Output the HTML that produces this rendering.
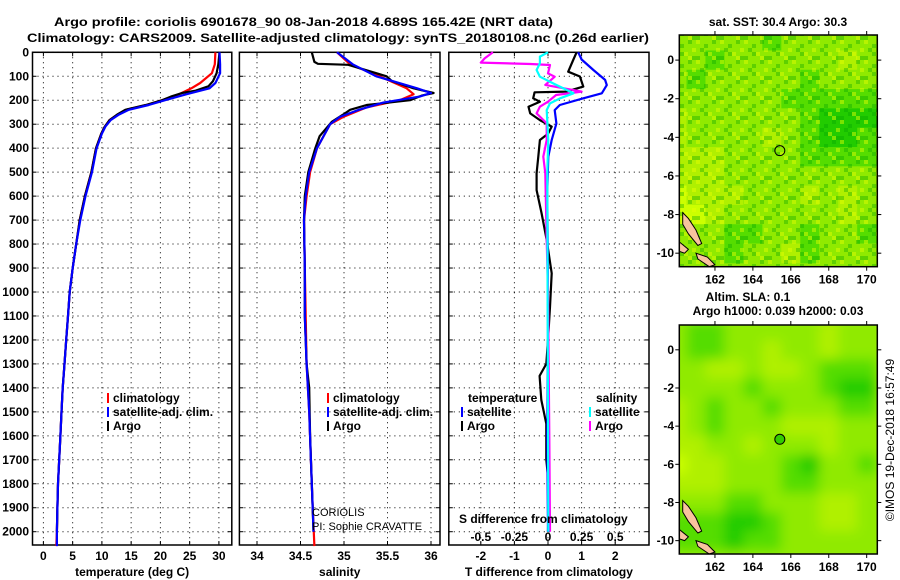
<!DOCTYPE html>
<html><head><meta charset="utf-8">
<style>
html,body{margin:0;padding:0;background:#fff;}
svg{display:block;font-family:"Liberation Sans",sans-serif;}
.b{font-weight:bold;font-size:12px;}
</style></head>
<body>
<svg id="fig" width="900" height="580" viewBox="0 0 900 580">
<text x="54" y="26" class="b" font-size="13" textLength="499" lengthAdjust="spacingAndGlyphs">Argo profile: coriolis 6901678_90 08-Jan-2018 4.689S 165.42E (NRT data)</text>
<text x="27" y="42" class="b" font-size="13" textLength="622" lengthAdjust="spacingAndGlyphs">Climatology: CARS2009. Satellite-adjusted climatology: synTS_20180108.nc (0.26d earlier)</text>
<g id="plots"></g>
<text x="778" y="26" class="b" text-anchor="middle">sat. SST: 30.4 Argo: 30.3</text>
<text x="748" y="301" class="b" text-anchor="middle">Altim. SLA: 0.1</text>
<text x="778" y="315" class="b" text-anchor="middle">Argo h1000: 0.039 h2000: 0.03</text>
<text transform="translate(894,440) rotate(-90)" font-size="12" text-anchor="middle">©IMOS 19-Dec-2018 16:57:49</text>
<text x="312" y="516" font-size="11">CORIOLIS</text>
<text x="312" y="530" font-size="11">PI: Sophie CRAVATTE</text>
</svg>
<script>
// ---- Profile data (depth in m) ----
const depthArgoT = [0,50,87,120,142,160,170,185,200,220,240,260,283,310,339,400,500,600,700,800,900,1000,1100,1200,1300,1400,1500,1600,1700,1800,1900,2000];
const tempArgo   = [30.1,29.9,29.6,29.0,28.2,26.0,23.7,21.8,20.3,17.5,14.0,12.6,11.3,10.5,9.9,9.0,8.2,7.1,6.2,5.6,5.0,4.5,4.2,3.9,3.6,3.3,3.1,2.9,2.7,2.5,2.4,2.3];
const depthClimT = [0,50,87,128,150,175,200,220,240,260,283,310,339,400,500,600,700,800,900,1000,1100,1200,1300,1400,1500,1600,1700,1800,1900,2000,2060];
const tempClim   = [29.4,29.3,28.8,26.8,25.3,23.2,20.3,17.6,14.2,12.7,11.3,10.5,9.9,9.0,8.2,7.1,6.2,5.6,5.0,4.5,4.2,3.9,3.6,3.3,3.1,2.9,2.7,2.5,2.4,2.3,2.2];
const tempSat    = [30.1,30.2,30.2,29.4,28.4,24.5,20.8,18.0,14.6,12.9,11.5,10.6,10.0,9.1,8.3,7.2,6.3,5.6,5.0,4.5,4.2,3.9,3.6,3.3,3.1,2.9,2.7,2.5,2.4,2.3,2.3];

const depthArgoS = [0,40,48,52,100,120,150,170,180,200,220,240,260,290,350,400,500,600,700,900,1100,1300,1400,1600,1800,2000];
const salArgo    = [34.63,34.66,34.7,35.05,35.49,35.55,35.8,36.03,35.9,35.76,35.26,35.07,34.99,34.86,34.72,34.67,34.59,34.55,34.54,34.55,34.55,34.57,34.6,34.61,34.63,34.65];
const depthClimS = [0,50,100,150,175,200,230,270,300,400,500,600,700,900,1100,1300,1500,1700,1900,2060];
const salClim    = [34.92,35.07,35.41,35.72,35.8,35.64,35.26,34.99,34.84,34.69,34.61,34.57,34.54,34.55,34.56,34.57,34.6,34.62,34.64,34.66];
const depthSatS  = [0,50,100,150,170,185,210,240,270,300,400,500,600,700,900,1100,1300,1500,1700,1900,2000];
const salSat     = [34.92,35.1,35.37,35.84,36.0,35.87,35.45,35.17,34.95,34.84,34.69,34.6,34.56,34.54,34.55,34.55,34.57,34.6,34.62,34.64,34.65];

const depthDiffTS = [0,30,74,115,137,171,192,220,241,297,366,435,575,800,1200,1600,2000];
const tDiffSat    = [0.9,1.0,1.35,1.7,1.75,1.6,1.05,0.35,0.2,0.25,0.11,0.01,-0.02,-0.01,0,-0.02,0];
const depthDiffTA = [0,32,81,101,143,164,167,192,206,227,255,283,310,340,366,435,505,575,672,783,922,1062,1200,1300,1350,1450,1550,1700,1800,2000];
const tDiffArgo   = [0.85,0.75,0.6,0.95,1.05,0.55,-0.4,-0.44,-0.24,-0.58,-0.53,-0.24,0.11,0,-0.24,-0.29,-0.34,-0.34,-0.19,-0.04,0.11,0.06,0,-0.05,-0.25,-0.2,-0.05,-0.05,0.02,0];
const depthDiffSA = [0,25,43,49,53,88,102,136,164,178,206,227,255,296,366,435,505,783,1000,1600,2000];
const sDiffArgo   = [-0.41,-0.47,-0.5,-0.13,0.015,0,0.05,-0.02,0.25,0.06,0,-0.06,-0.085,-0.01,-0.01,-0.035,-0.02,-0.01,0,0.01,0.015];
const depthDiffSS = [0,18,46,74,102,130,171,192,213,241,366,500,1000,1500,2000];
const sDiffSat    = [0,-0.06,-0.06,-0.085,-0.06,0.04,0.19,0.09,0.015,-0.01,0.002,-0.005,-0.003,0,0.002];

const tempTicks = [0,5,10,15,20,25,30];
const salTicks = [34,34.5,35,35.5,36];
const tDiffTicks = [-2,-1,0,1,2];
const sDiffTicks = [-0.5,-0.25,0,0.25,0.5];
const sDiffTickLabels = ["-0.5","-0.25","0","0.25","0.5"];
const depthTicks = [0,100,200,300,400,500,600,700,800,900,1000,1100,1200,1300,1400,1500,1600,1700,1800,1900,2000];

// ---- Map data (levels 0 dark green .. 4 yellow), rows lat 1..-10, cols lon 160..170 ----
const sstGrid = [
[2,2,2,2,2,1,2,2,2,2,2],[2,2,1,2,2,2,2,2,2,3,2],[2,1,2,2,2,2,2,1,2,2,2],[2,2,2,2,2,2,1,1,1,1,1],
[3,2,2,2,2,2,2,1,0,0,0],[3,2,2,2,2,3,2,1,0,0,1],[3,3,3,2,2,2,2,1,1,1,1],[3,3,3,2,2,2,2,2,2,2,2],
[4,3,3,3,2,2,2,3,2,3,2],[4,4,3,2,2,2,2,2,2,3,2],[2,2,2,1,1,2,2,1,2,2,1],[2,2,2,1,2,2,3,1,2,2,2]];
const slaGrid = [
[2,1,1,2,2,2,2,2,3,2,2],[2,1,1,2,2,3,2,2,3,2,2],[2,2,3,3,2,3,3,2,1,1,1],[2,2,2,2,1,2,2,2,1,0,0],
[3,2,1,2,2,1,2,2,2,1,1],[3,2,1,2,2,2,3,3,3,2,2],[3,3,2,2,3,2,2,2,3,2,2],[4,3,3,2,2,2,1,0,2,2,1],
[3,3,3,2,2,2,1,1,2,2,2],[2,2,2,1,1,2,2,2,3,3,2],[1,1,1,0,0,1,2,2,3,3,2],[1,1,1,0,1,1,2,2,2,2,2]];
const mapLonTicks = [162,164,166,168,170];
const mapLatTicks = [0,-2,-4,-6,-8,-10];
const argoLon = 165.42, argoLat = -4.689;

const NS='http://www.w3.org/2000/svg';
const root=document.getElementById('plots');
function el(tag,attrs,parent){const e=document.createElementNS(NS,tag);for(const k in attrs)e.setAttribute(k,attrs[k]);(parent||root).appendChild(e);return e;}
function txt(x,y,s,attrs,parent){const t=el('text',Object.assign({x:x,y:y},attrs),parent);t.textContent=s;return t;}

const yTop=52.3, yPx=0.2397, yBot=545;
const yScale=d=>yTop+d*yPx;

function panel(name,x0,x1,xs,ticks,labels,title){
  const g=el('g',{});
  
  
  depthTicks.forEach(d=>{const y=yScale(d);
    el('line',{x1:x0,x2:x1,y1:y,y2:y,stroke:'#000','stroke-width':1,'stroke-dasharray':'1,4'},g);
    el('line',{x1:x0,x2:x0+4,y1:y,y2:y,stroke:'#000'},g);
    el('line',{x1:x1-4,x2:x1,y1:y,y2:y,stroke:'#000'},g);});
  ticks.forEach((v,i)=>{const x=xs(v);
    el('line',{x1:x,x2:x,y1:yTop,y2:yBot,stroke:'#000','stroke-width':1,'stroke-dasharray':'1,4'},g);
    el('line',{x1:x,x2:x,y1:yBot-4,y2:yBot,stroke:'#000'},g);
    el('line',{x1:x,x2:x,y1:yTop,y2:yTop+4,stroke:'#000'},g);
    const t=txt(x,560,labels[i],{class:'b','text-anchor':'middle'},g);
    
    });
  el('rect',{x:x0,y:yTop,width:x1-x0,height:yBot-yTop,fill:'none',stroke:'#000','stroke-width':1.5},g);
  const tt=txt((x0+x1)/2,576,title,{class:'b','text-anchor':'middle'},g);
  
  
  return g;
}
function series(g,name,depths,vals,xs,color){
  const pts=depths.map((d,i)=>xs(vals[i]).toFixed(1)+','+yScale(d).toFixed(1)).join(' ');
  const p=el('polyline',{points:pts,fill:'none',stroke:color,'stroke-width':2.2,'stroke-linejoin':'round'},g);
  
  
}
function legend(g,x,y,color,label,name){
  el('line',{x1:x,x2:x,y1:y-9,y2:y+1,stroke:color,'stroke-width':2},g);
  const t=txt(x+5,y,label,{class:'b'},g);
  
  
}

depthTicks.forEach(d=>{const t=txt(29,yScale(d)+4,String(d),{class:'b','text-anchor':'end'});
  
  });

const xT=v=>43.4+v*5.85;
const g1=panel('temperature-panel',32.5,231.8,xT,tempTicks,tempTicks.map(String),'temperature (deg C)');
series(g1,'temp-climatology-line',depthClimT,tempClim,xT,'#f00');
series(g1,'temp-argo-line',depthArgoT,tempArgo,xT,'#000');
series(g1,'temp-satellite-line',depthClimT,tempSat,xT,'#00f');
legend(g1,108,402,'#f00','climatology','legend-climatology');
legend(g1,108,416,'#00f','satellite-adj. clim.','legend-satellite');
legend(g1,108,430,'#000','Argo','legend-argo');

const xS=v=>257+(v-34)*87;
const g2=panel('salinity-panel',239.4,440,xS,salTicks,salTicks.map(String),'salinity');
series(g2,'sal-climatology-line',depthClimS,salClim,xS,'#f00');
series(g2,'sal-argo-line',depthArgoS,salArgo,xS,'#000');
series(g2,'sal-satellite-line',depthSatS,salSat,xS,'#00f');
legend(g2,328,402,'#f00','climatology','legend-climatology');
legend(g2,328,416,'#00f','satellite-adj. clim.','legend-satellite');
legend(g2,328,430,'#000','Argo','legend-argo');

const xD=v=>548+v*33.6;
const xSD=v=>548+v*4*33.6;
const g3=panel('difference-panel',448.8,649,xD,tDiffTicks,tDiffTicks.map(String),'T difference from climatology');
series(g3,'tdiff-argo-line',depthDiffTA,tDiffArgo,xD,'#000');
series(g3,'tdiff-satellite-line',depthDiffTS,tDiffSat,xD,'#00f');
series(g3,'sdiff-argo-line',depthDiffSA,sDiffArgo,xSD,'#f0f');
series(g3,'sdiff-satellite-line',depthDiffSS,sDiffSat,xSD,'#0ff');
txt(468,402,'temperature',{class:'b'},g3);
txt(596,402,'salinity',{class:'b'},g3);
legend(g3,462,416,'#00f','satellite','legend-t-satellite');
legend(g3,462,430,'#000','Argo','legend-t-argo');
legend(g3,590,416,'#0ff','satellite','legend-s-satellite');
legend(g3,590,430,'#f0f','Argo','legend-s-argo');
txt(459,523,'S difference from climatology',{class:'b'},g3);
sDiffTicks.forEach((v,i)=>{const t=txt(xSD(v),541,sDiffTickLabels[i],{class:'b','text-anchor':'middle'},g3);
  
  });

// ---- Maps ----
const palette=['#22cc00','#55dd00','#90ea00','#b0f000','#ccff00'];
const defs=el('defs',{});
const f=el('filter',{id:'blur',x:'-10%',y:'-10%',width:'120%',height:'120%'},defs);
el('feGaussianBlur',{stdDeviation:6},f);
// decorative pixel texture for the SST map
const pat=el('pattern',{id:'tex',width:24,height:20,patternUnits:'userSpaceOnUse'},defs);
[[0,0,'y'],[8,4,'g'],[16,0,'g'],[4,8,'g'],[12,12,'y'],[20,8,'y'],[0,16,'g'],[16,16,'y'],[8,12,'g'],[20,16,'g']].forEach(q=>{
  el('rect',{x:q[0],y:q[1],width:4,height:4,fill:q[2]==='y'?'rgba(230,255,0,0.45)':'rgba(0,160,0,0.35)'},pat);});

function drawMap(name,grid,top,bottom,blur,filledDot){
  const x0=679.3,x1=877.3,lonMin=160.12,lonMax=170.56,latMax=1.3,latMin=-10.7;
  const lx=v=>x0+(v-lonMin)/(lonMax-lonMin)*(x1-x0);
  const ly=v=>top+(latMax-v)/(latMax-latMin)*(bottom-top);
  const g=el('g',{});
  
  
  const cid='clip'+name;
  const cp=el('clipPath',{id:cid},g);el('rect',{x:x0,y:top,width:x1-x0,height:bottom-top},cp);
  const inner=el('g',{'clip-path':'url(#'+cid+')'},g);
  const cells=el('g',blur?{filter:'url(#blur)'}:{},inner);
  el('rect',{x:x0-10,y:top-10,width:x1-x0+20,height:bottom-top+20,fill:palette[2]},cells);
  grid.forEach((row,r)=>row.forEach((v,c)=>{
    const lat=1-r, lon=160+c;
    const rc=el('rect',{x:lx(lon-0.5),y:ly(lat+0.5),width:lx(lon+0.5)-lx(lon-0.5)+0.5,height:ly(lat-0.5)-ly(lat+0.5)+0.5,fill:palette[v]},cells);
    
    
  }));
  if(!blur) el('rect',{x:x0,y:top,width:x1-x0,height:bottom-top,fill:'url(#tex)'},inner);
  const isl=[[[160.3,-7.9],[160.6,-8.2],[161.0,-8.8],[161.3,-9.5],[161.1,-9.6],[160.6,-9.0],[160.3,-8.5]],
             [[160.1,-9.4],[160.6,-9.8],[160.4,-10.0],[160.1,-9.9]],
             [[161.0,-10.0],[161.6,-10.2],[162.0,-10.6],[161.7,-10.7],[161.1,-10.3]]];
  isl.forEach(poly=>{const p=el('polygon',{points:poly.map(q=>lx(q[0])+','+ly(q[1])).join(' '),fill:'#f8c39e',stroke:'#000','stroke-width':1},inner);
    
    });
  el('rect',{x:x0,y:top,width:x1-x0,height:bottom-top,fill:'none',stroke:'#000','stroke-width':1.5},g);
  mapLonTicks.forEach(v=>{const x=lx(v);el('line',{x1:x,x2:x,y1:bottom,y2:bottom+4,stroke:'#000'},g);el('line',{x1:x,x2:x,y1:top-4,y2:top,stroke:'#000'},g);
    const t=txt(x,bottom+17,String(v),{class:'b','text-anchor':'middle'},g);
    
    });
  mapLatTicks.forEach(v=>{const y=ly(v);el('line',{x1:x0-4,x2:x0,y1:y,y2:y,stroke:'#000'},g);el('line',{x1:x1,x2:x1+4,y1:y,y2:y,stroke:'#000'},g);
    const t=txt(674,y+4,String(v),{class:'b','text-anchor':'end'},g);
    
    });
  const c=el('circle',{cx:lx(argoLon),cy:ly(argoLat),r:5,fill:filledDot?'#33cc00':'none',stroke:'#000','stroke-width':1},g);
  
  
}
drawMap('sst-map',sstGrid,35,266.7,false,false);
drawMap('sla-map',slaGrid,325,554,true,true);
</script>
</body></html>
